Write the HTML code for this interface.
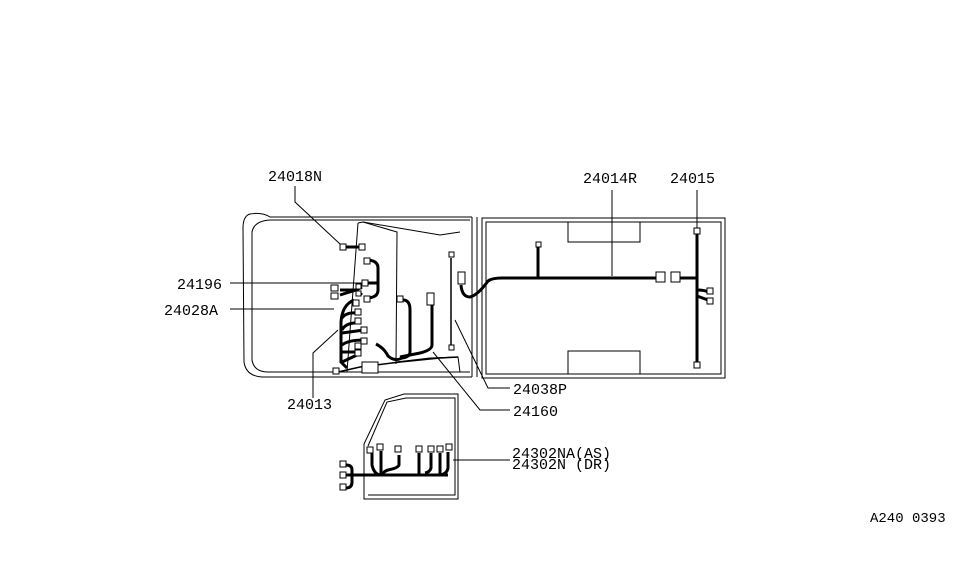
<!DOCTYPE html>
<html><head><style>
html,body{margin:0;padding:0;background:#fff;}
svg{display:block}
text{font-family:"Liberation Mono",monospace;font-size:15px;fill:#000;}
</style></head><body>
<svg width="975" height="566" viewBox="0 0 975 566" xmlns="http://www.w3.org/2000/svg">
<g fill="none" stroke="#000" stroke-width="1">
<!-- cab -->
<path d="M472,217 L270,217 Q262,212 250,214 Q243,216 243,228 L244,362 Q246,376 262,377 L472,377"/>
<path d="M470,220 L270,220 Q254,221 252,232 L252,360 Q254,372 268,372 L470,372"/>
<path d="M358,223 L363,222 L397,232 L396,364"/>
<path d="M358,223 L347,372"/>
<path d="M363,222 L440,235 L460,232"/>
<path d="M396,362 L430,358 L458,357 L460,372"/>
<line x1="472" y1="217" x2="472" y2="377"/>
<line x1="477" y1="217" x2="477" y2="377"/>
<!-- bed -->
<rect x="482" y="218" width="243" height="160"/>
<rect x="486" y="222" width="235" height="152"/>
<path d="M568,222 V242 H640 V222"/>
<path d="M568,374 V351 H640 V374"/>
<!-- door -->
<path d="M364,444 L385,400 L404,394 L458,394 L458,499 L364,499 Z"/>
<path d="M368,446 L387,402 L406,398 L455,398 L455,495 L368,495"/>
</g>
<!-- harness heavy lines -->
<g fill="none" stroke="#000" stroke-width="3">
<line x1="343" y1="247" x2="361" y2="247"/>
<path d="M366,260 Q378,260 378,268 V290 Q378,298 366,298"/>
<line x1="364" y1="283" x2="378" y2="283"/>
<path d="M340,290 L356,290 L362,287 M340,295 L356,290 L362,295"/>
<path d="M354,300 Q342,305 341,322 V362 L347,368"/>
<path d="M342,318 Q346,312 357,313 M342,330 Q346,322 360,323 M342,333 L364,330 M342,345 Q348,340 364,340 M342,352 L358,352 M342,362 L357,355"/>
<path d="M403,300 Q410,300 410,310 V352 Q410,357 402,358 Q395,362 388,356 Q384,348 376,344"/>
<path d="M432,304 V345 Q432,350 420,353 L400,357"/>
<path d="M461,285 Q462,297 470,297 Q478,295 488,281 Q492,278 502,278 L656,278"/>
<line x1="538" y1="246" x2="538" y2="278"/>
<line x1="680" y1="278" x2="698" y2="278"/>
<line x1="697" y1="232" x2="697" y2="365"/>
<path d="M697,290 Q705,290 708,292 M697,296 L708,300"/>
<!-- door harness -->
<path d="M346,475 L448,475"/>
<path d="M346,465 Q352,465 352,470 V482 Q352,488 346,488"/>
<path d="M372,453 V465 Q374,474 380,475 M381,451 V475 M399,455 V465 Q398,468 388,470 Q384,471 382,475 M419,453 V475 M431,453 V468 Q430,472 425,473 M440,453 V475 M448,452 V468 Q447,474 440,475"/>
</g>
<g fill="none" stroke="#000" stroke-width="1.5">
<line x1="451" y1="258" x2="451" y2="345"/>
<path d="M338,372 L360,367 L400,362 L440,358 L458,357"/>
</g>
<!-- connectors -->
<g fill="#fff" stroke="#000" stroke-width="1">
<rect x="340" y="244" width="6" height="6"/><rect x="359" y="244" width="6" height="6"/>
<rect x="364" y="258" width="6" height="6"/><rect x="362" y="280" width="6" height="6"/>
<rect x="364" y="296" width="6" height="6"/>
<rect x="331" y="285" width="7" height="6"/><rect x="331" y="293" width="7" height="6"/>
<rect x="356" y="284" width="5" height="5"/><rect x="356" y="291" width="5" height="5"/>
<rect x="353" y="300" width="6" height="6"/>
<rect x="355" y="309" width="6" height="6"/><rect x="355" y="318" width="6" height="6"/>
<rect x="361" y="327" width="6" height="6"/><rect x="361" y="338" width="6" height="6"/>
<rect x="355" y="343" width="6" height="6"/><rect x="355" y="350" width="6" height="6"/>
<rect x="333" y="368" width="6" height="6"/>
<rect x="362" y="362" width="16" height="11"/>
<rect x="397" y="296" width="6" height="6"/>
<rect x="427" y="293" width="7" height="12"/>
<rect x="449" y="252" width="5" height="5"/><rect x="449" y="345" width="5" height="5"/>
<rect x="458" y="272" width="7" height="12"/>
<rect x="536" y="242" width="5" height="5"/>
<rect x="656" y="272" width="9" height="10"/><rect x="671" y="272" width="9" height="10"/>
<rect x="694" y="228" width="6" height="6"/><rect x="694" y="362" width="6" height="6"/>
<rect x="707" y="288" width="6" height="6"/><rect x="707" y="298" width="6" height="6"/>
<rect x="340" y="461" width="6" height="6"/><rect x="340" y="472" width="6" height="6"/><rect x="340" y="484" width="6" height="6"/>
<rect x="367" y="447" width="6" height="6"/><rect x="377" y="444" width="6" height="6"/><rect x="395" y="446" width="6" height="6"/>
<rect x="416" y="446" width="6" height="6"/><rect x="428" y="446" width="6" height="6"/><rect x="437" y="446" width="6" height="6"/><rect x="446" y="444" width="6" height="6"/>
</g>
<!-- leader lines -->
<g fill="none" stroke="#000" stroke-width="1">
<path d="M295,186 V202 L340,244"/>
<line x1="230" y1="283" x2="362" y2="283"/>
<line x1="230" y1="309" x2="334" y2="309"/>
<path d="M313,398 V353 L338,330"/>
<path d="M612,190 V276"/>
<path d="M697,190 V228"/>
<path d="M455,320 L488,388 L510,388"/>
<path d="M433,352 L480,410 L510,410"/>
<path d="M453,460 L510,460"/>
</g>
<text x="268" y="181">24018N</text>
<text x="177" y="289">24196</text>
<text x="164" y="315">24028A</text>
<text x="287" y="409">24013</text>
<text x="583" y="183">24014R</text>
<text x="670" y="183">24015</text>
<text x="513" y="394">24038P</text>
<text x="513" y="416">24160</text>
<text x="512" y="458">24302NA(AS)</text>
<text x="512" y="469">24302N (DR)</text>
<text x="870" y="522" style="font-size:14px">A240 0393</text>
</svg>
</body></html>
